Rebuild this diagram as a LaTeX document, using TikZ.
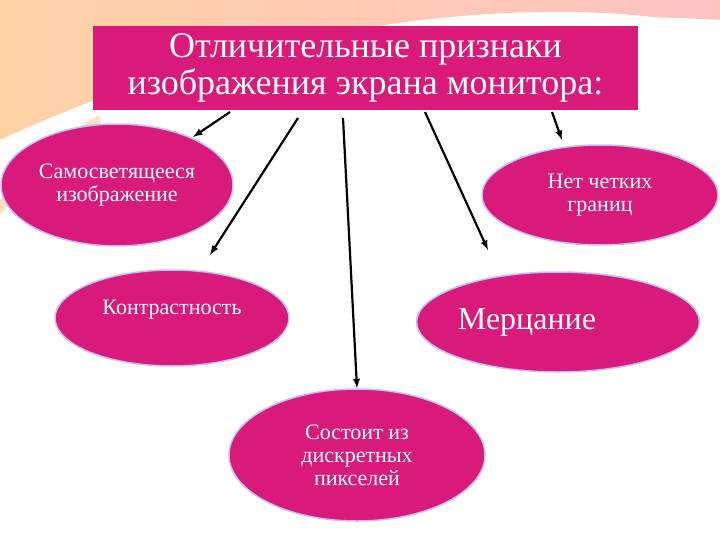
\documentclass[tikz,border=0pt]{standalone}
\usepackage{fontspec}
\setmainfont{Liberation Serif}
\begin{document}
\begin{tikzpicture}[x=1pt,y=-1pt,
  ell/.style={ellipse,fill=magenta!85!red!90!black,draw=blue!25,line width=1.5pt,text=white,font=\fontsize{22}{23}\selectfont,align=center,inner sep=0pt},
  arr/.style={-latex,line width=2.2pt,black}]
\usetikzlibrary{shapes.geometric}
\useasboundingbox (0,0) rectangle (720,540);
\fill[white] (0,0) rectangle (720,540);
% decorative background swooshes
\shade[left color=orange!35,right color=red!30!pink!50] (0,0) -- (720,0) -- (720,30) .. controls (600,-5) and (300,0) .. (0,140) -- cycle;
\fill[white] (0,200) .. controls (150,60) and (450,30) .. (720,50) -- (720,20) .. controls (450,5) and (150,40) .. (0,160) -- cycle;
\fill[orange!25] (0,215) .. controls (30,175) and (60,150) .. (100,125) -- (100,115) .. controls (50,140) and (20,175) .. (0,200) -- cycle;
\node[fill=magenta!85!red!90!black,minimum width=545pt,minimum height=84pt,text=white,align=center,font=\fontsize{36}{37}\selectfont] (t) at (365.5,68) {Отличительные признаки\\изображения экрана монитора:};
\node[ell,minimum width=232pt,minimum height=122pt] (a) at (117,185) {Самосветящееся\\изображение};
\node[ell,minimum width=236pt,minimum height=100pt] (b) at (600,195) {Нет четких\\границ};
\node[ell,minimum width=234pt,minimum height=96pt,text depth=22pt] (c) at (172,318) {Контрастность};
\node[ell,minimum width=260pt,minimum height=100pt,font=\fontsize{32}{33}\selectfont] (d) at (558,322) {Мерцание\hspace*{62pt}};
\node[ell,minimum width=256pt,minimum height=132pt] (e) at (357,455) {Состоит из\\дискретных\\пикселей};
\coordinate (s1) at (230,112); \coordinate (s2) at (298,118); \coordinate (s3) at (343,118);
\coordinate (s4) at (425,112); \coordinate (s5) at (552,112);
\coordinate (e1) at (193,137); \coordinate (e2) at (210,255); \coordinate (e4) at (488,250); \coordinate (e5) at (562,140);
\draw[arr] (s1) -- (e1);
\draw[arr] (s2) -- (e2);
\draw[arr] (s3) -- (e.north);
\draw[arr] (s4) -- (e4);
\draw[arr] (s5) -- (e5);
\end{tikzpicture}
\end{document}
